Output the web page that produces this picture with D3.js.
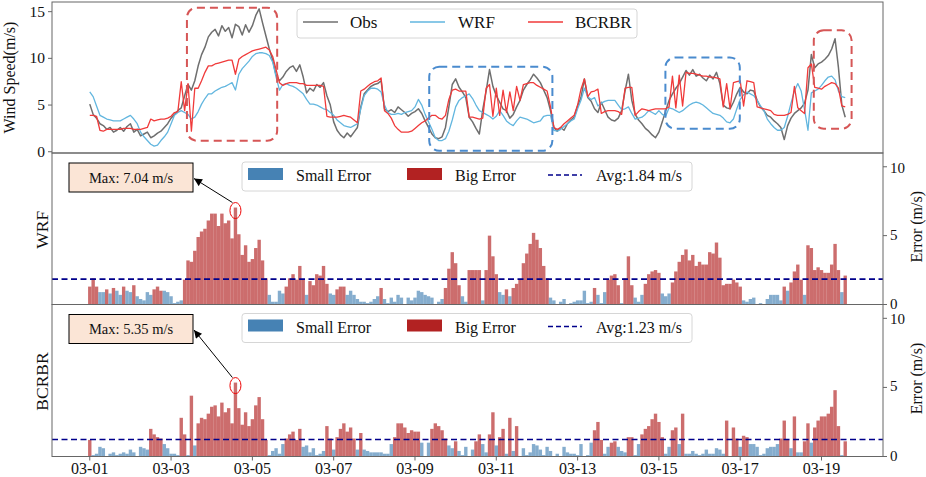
<!DOCTYPE html>
<html>
<head>
<meta charset="utf-8">
<script src="https://cdn.jsdelivr.net/npm/d3@7"></script>
<style>
  body { margin: 0; background: #fff; }
  text { font-family: "Liberation Serif", "Times New Roman", serif; fill: #111; }
</style>
</head>
<body>
<div id="chart"></div>
<script>
// 2-hourly wind speed, 03-01 00:00 .. 03-19 14:00 (m/s)
var obs = [
  5.1, 4.0, 3.6, 3.0, 2.8, 2.4, 2.6, 2.1, 2.3, 2.6, 2.2, 2.7,
  3.0, 2.1, 2.4, 1.7, 1.9, 2.1, 1.5, 1.7, 2.0, 2.2, 2.6, 3.0,
  3.6, 4.0, 4.4, 4.7, 6.0, 7.2, 6.6, 7.6, 9.2, 10.4, 11.2, 12.3,
  12.8, 13.1, 12.4, 13.5, 12.9, 13.3, 12.2, 13.65, 13.4, 12.5, 13.6, 12.8,
  13.5, 14.6, 15.3, 13.8, 12.4, 11.0, 9.8, 8.2, 7.6, 8.0, 8.6, 9.0,
  9.2, 8.6, 9.3, 8.0, 6.3, 6.8, 6.5, 7.2, 6.9, 7.4, 6.0, 5.0,
  3.2, 2.3, 1.8, 1.5, 2.0, 1.6, 2.1, 2.6, 4.8, 6.2, 6.6, 7.0,
  7.2, 7.3, 7.6, 4.6, 4.3, 4.5, 4.2, 4.8, 4.5, 4.2, 3.8, 4.1,
  4.3, 4.6, 4.1, 3.3, 2.6, 1.9, 1.5, 1.4, 1.6, 2.6, 4.8, 7.2,
  7.8, 6.9, 6.4, 5.8, 3.7, 3.2, 2.5, 1.9, 4.5, 6.5, 8.8, 7.0,
  6.0, 5.3, 4.6, 4.4, 3.6, 4.0, 4.8, 5.5, 6.6, 7.2, 7.7, 8.3,
  7.9, 7.4, 6.6, 5.8, 4.4, 2.6, 2.2, 2.6, 2.3, 3.0, 3.4, 3.7,
  4.9, 5.8, 7.8, 5.8, 5.4, 4.6, 4.2, 5.3, 4.5, 3.7, 3.4, 3.3,
  3.6, 4.4, 6.5, 8.3, 5.5, 4.0, 3.4, 3.0, 2.5, 2.2, 1.8, 1.5,
  2.1, 3.2, 4.4, 5.5, 6.2, 6.8, 7.3, 8.0, 8.7, 8.2, 8.8, 8.1,
  8.3, 7.9, 7.6, 8.2, 7.8, 8.5, 7.3, 5.0, 4.7, 4.6, 5.3, 6.2,
  6.9, 6.4, 6.2, 6.6, 6.5, 5.5, 4.8, 4.4, 3.9, 3.7, 3.3, 3.0,
  2.6, 1.3, 2.8, 3.6, 4.1, 4.4, 4.7, 5.2, 6.6, 10.4, 9.0, 9.4,
  9.6, 9.9, 10.3, 11.0, 12.1, 9.0, 5.0, 3.7
];
var wrf = [
  6.4, 5.9, 4.9, 3.9, 3.7, 3.5, 3.4, 3.3, 3.3, 3.3, 3.5, 3.7,
  3.9, 3.5, 3.0, 2.1, 1.6, 1.2, 0.8, 0.6, 0.7, 1.2, 1.6, 2.1,
  3.0, 3.9, 4.2, 4.4, 4.2, 4.0, 3.5, 3.7, 4.3, 5.1, 5.7, 6.2,
  6.2, 6.5, 6.7, 6.9, 7.0, 7.2, 7.4, 6.61, 8.3, 8.9, 9.3, 9.7,
  10.2, 10.5, 10.6, 10.6, 10.5, 10.3, 9.6, 8.0, 6.6, 7.2, 7.3, 7.1,
  7.0, 6.8, 6.5, 6.2, 5.6, 5.1, 5.1, 5.0, 4.8, 4.6, 4.5, 4.2,
  3.9, 3.4, 3.1, 2.8, 2.7, 2.6, 2.8, 3.0, 4.6, 6.0, 6.5, 6.8,
  6.8, 6.7, 6.4, 5.0, 4.2, 4.0, 4.0, 4.1, 4.0, 4.2, 4.3, 4.4,
  4.8, 5.6, 5.0, 4.0, 3.2, 2.4, 1.5, 1.2, 1.2, 1.4, 2.2, 3.4,
  4.8, 5.5, 5.8, 6.0, 6.2, 5.7, 5.0, 4.4, 4.2, 4.0, 3.8, 3.5,
  3.8, 4.4, 3.9, 3.3, 3.0, 2.8, 3.3, 3.7, 3.6, 3.5, 3.3, 3.1,
  3.2, 3.3, 3.8, 3.9, 3.9, 2.3, 2.2, 2.4, 2.7, 3.0, 3.3, 3.5,
  4.6, 5.5, 6.8, 5.9, 5.6, 5.8, 4.9, 5.2, 5.4, 5.5, 5.5, 5.5,
  5.0, 4.5, 4.6, 4.8, 4.1, 3.5, 3.6, 3.7, 4.0, 4.4, 4.2, 4.0,
  4.4, 4.0, 3.8, 4.7, 4.6, 4.4, 4.2, 4.4, 4.7, 5.0, 5.2, 5.3,
  5.2, 5.0, 4.7, 4.4, 4.1, 4.0, 3.9, 3.6, 3.2, 3.1, 3.5, 4.6,
  5.6, 6.1, 6.4, 6.2, 6.0, 5.5, 4.9, 4.4, 3.5, 3.0, 2.6, 2.3,
  2.3, 2.6, 3.8, 5.2, 6.5, 7.3, 6.5, 4.5, 2.3, 6.3, 6.5, 6.7,
  7.1, 7.6, 8.0, 8.1, 7.7, 6.5, 5.9, 5.8
];
var bcrbr = [
  3.9, 3.9, 3.8, 2.3, 2.2, 2.4, 2.4, 2.4, 2.4, 2.4, 2.5, 2.5,
  2.5, 2.4, 2.4, 2.4, 2.5, 2.6, 3.5, 3.3, 3.4, 3.5, 3.5, 3.6,
  3.8, 4.2, 4.3, 7.5, 4.4, 7.3, 2.2, 6.8, 6.8, 7.6, 8.5, 9.2,
  9.2, 9.4, 9.5, 9.6, 9.7, 9.8, 9.8, 8.3, 9.9, 10.2, 10.4, 10.6,
  10.8, 10.9, 11.0, 11.1, 11.2, 10.9, 10.2, 8.8, 7.4, 7.1, 7.3, 7.4,
  7.4, 7.4, 7.3, 7.3, 7.1, 7.1, 7.1, 7.1, 7.1, 7.0, 3.8, 3.7,
  3.7, 3.7, 3.8, 3.9, 3.8, 3.7, 3.4, 3.1, 6.5, 6.7, 7.0, 7.3,
  7.5, 7.6, 7.9, 4.4, 4.1, 3.6, 2.8, 2.4, 2.1, 2.1, 2.1, 2.2,
  2.5, 2.8, 3.1, 3.3, 3.6, 3.9, 3.9, 3.6, 3.5, 3.9, 5.6, 6.6,
  6.7, 6.5, 6.5, 6.5, 3.7, 3.7, 3.6, 3.5, 3.6, 6.8, 7.2, 3.8,
  6.8, 3.9, 6.6, 4.2, 6.4, 4.4, 7.0, 5.5, 7.2, 7.3, 7.4, 7.4,
  7.1, 6.9, 6.7, 6.5, 4.8, 2.6, 2.4, 2.6, 3.0, 3.3, 3.6, 3.9,
  5.0, 6.7, 7.8, 5.9, 6.4, 6.5, 6.7, 4.1, 4.3, 4.4, 4.4, 4.4,
  4.3, 4.0, 6.8, 6.9, 6.9, 3.9, 4.3, 4.6, 4.5, 4.4, 4.5, 4.6,
  4.6, 4.6, 4.6, 4.8, 8.1, 4.7, 8.2, 4.9, 8.5, 8.4, 8.4, 8.3,
  8.2, 8.1, 8.1, 8.0, 8.0, 7.9, 7.8, 4.8, 7.3, 4.6, 7.4, 7.5,
  7.6, 4.9, 7.6, 7.5, 7.4, 4.8, 4.7, 4.6, 4.5, 4.4, 4.0, 3.9,
  3.9, 3.9, 4.0, 4.2, 7.0, 4.7, 4.4, 4.1, 9.0, 9.4, 6.9, 6.8,
  6.7, 7.0, 7.2, 7.4, 7.3, 6.8, 4.9, 4.8
];

var seriesNames = ["Obs", "WRF", "BCRBR"];
var seriesColors = ["#6f6f6f", "#62b6df", "#f03a3a"];
var panelNames = ["WRF", "BCRBR"];
var avgErr = [1.84, 1.23];          // legend values
var bigThreshold = 1.0;             // small / big error split (m/s)
var xTickLabels = ["03-01", "03-03", "03-05", "03-07", "03-09", "03-11", "03-13", "03-15", "03-17", "03-19"];
var speedTicks = [0, 5, 10, 15];
var errTicks = [0, 5, 10];
// highlighted windows: start day, end day (days after 03-01), low/high speed
var hlStart = [2.39, 8.35, 14.16, 17.81];
var hlEnd = [4.61, 11.38, 15.99, 18.74];
var hlLow = [1.18, 0.1, 2.46, 2.46];
var hlHigh = [15.43, 9.1, 10.1, 13.0];
var hlKind = ["red", "blue", "blue", "red"];

var W = 926, H = 477;
var L = 52, R = 883;
var HOUR2 = 2 * 3600 * 1000, DAY = 24 * 3600 * 1000;
var t0 = Date.UTC(2021, 2, 1);
var times = obs.map(function (d, i) { return new Date(t0 + i * HOUR2); });
var tEnd = times[times.length - 1];
var pad = (tEnd - times[0]) * 0.05;

var svg = d3.select("#chart").append("svg").attr("width", W).attr("height", H);
svg.append("rect").attr("width", W).attr("height", H).attr("fill", "#fff");

var x = d3.scaleUtc().domain([new Date(t0 - pad), new Date(+tEnd + pad)]).range([L, R]);
function dayX(d) { return x(new Date(t0 + d * DAY)); }

var defs = svg.append("defs");
defs.append("marker").attr("id", "ah").attr("viewBox", "0 0 10 10")
  .attr("refX", 10).attr("refY", 5).attr("markerWidth", 9).attr("markerHeight", 8)
  .attr("markerUnits", "userSpaceOnUse").attr("orient", "auto")
  .append("path").attr("d", "M0,0 L10,5 L0,10 z").attr("fill", "#000");

function clip(id, top, bottom) {
  defs.append("clipPath").attr("id", id).append("rect")
    .attr("x", L).attr("y", top).attr("width", R - L).attr("height", bottom - top);
}

// ---------- top panel: wind speed ----------
var topY0 = 2, topY1 = 153;
var all = obs.concat(wrf, bcrbr);
var lo = d3.min(all), hi = d3.max(all), yp = (hi - lo) * 0.05;
var ySpeed = d3.scaleLinear().domain([lo - yp, hi + yp]).range([topY1, topY0]);
clip("cTop", topY0, topY1);

var gTop = svg.append("g").attr("clip-path", "url(#cTop)");
[obs, wrf, bcrbr].forEach(function (s, k) {
  gTop.append("path").datum(s)
    .attr("fill", "none").attr("stroke", seriesColors[k])
    .attr("stroke-width", k === 0 ? 1.5 : 1.3).attr("stroke-linejoin", "round")
    .attr("d", d3.line().x(function (d, i) { return x(times[i]); }).y(function (d) { return ySpeed(d); }));
});

hlStart.forEach(function (s, i) {
  var x0 = dayX(s), x1 = dayX(hlEnd[i]), y0 = ySpeed(hlHigh[i]), y1 = ySpeed(hlLow[i]);
  svg.append("rect").attr("x", x0).attr("y", y0).attr("width", x1 - x0).attr("height", y1 - y0)
    .attr("rx", 10).attr("fill", "none")
    .attr("stroke", hlKind[i] === "red" ? "#d65656" : "#4a8bce")
    .attr("stroke-width", 2).attr("stroke-dasharray", "8,5");
});

svg.append("rect").attr("x", L).attr("y", topY0).attr("width", R - L).attr("height", topY1 - topY0)
  .attr("fill", "none").attr("stroke", "#666");

speedTicks.forEach(function (t) {
  var yy = ySpeed(t);
  svg.append("line").attr("x1", L - 4).attr("x2", L).attr("y1", yy).attr("y2", yy).attr("stroke", "#666");
  svg.append("text").attr("x", L - 7).attr("y", yy + 5).attr("text-anchor", "end")
    .attr("font-size", 15.5).text(t);
});
svg.append("text").attr("transform", "translate(15," + ((topY0 + topY1) / 2) + ") rotate(-90)")
  .attr("text-anchor", "middle").attr("font-size", 16).text("Wind Speed(m/s)");

// legend
var lg = svg.append("g");
lg.append("rect").attr("x", 297).attr("y", 9).attr("width", 340).attr("height", 29).attr("rx", 3)
  .attr("fill", "#fff").attr("fill-opacity", 0.85).attr("stroke", "#d6d6d6");
var legLineX = [303, 410, 528], legTextX = [350, 458, 575];
seriesNames.forEach(function (n, k) {
  lg.append("line").attr("x1", legLineX[k]).attr("x2", legLineX[k] + 35).attr("y1", 22).attr("y2", 22)
    .attr("stroke", seriesColors[k]).attr("stroke-width", 1.5);
  lg.append("text").attr("x", legTextX[k]).attr("y", 28).attr("font-size", 17).text(n);
});

// ---------- error panels ----------
var errPanels = [
  { err: wrf.map(function (v, i) { return Math.abs(v - obs[i]); }), top: 153, bottom: 304.5 },
  { err: bcrbr.map(function (v, i) { return Math.abs(v - obs[i]); }), top: 304.5, bottom: 456.5 }
];
var step = x(times[1]) - x(times[0]);

errPanels.forEach(function (p, k) {
  var y = d3.scaleLinear().domain([0, 11]).range([p.bottom, p.top]);
  clip("cErr" + k, p.top, p.bottom);
  var g = svg.append("g").attr("clip-path", "url(#cErr" + k + ")");

  g.selectAll("rect.bar").data(p.err).enter().append("rect")
    .attr("x", function (d, i) { return x(times[i]) - step / 2; })
    .attr("width", step)
    .attr("y", function (d) { return y(d); })
    .attr("height", function (d) { return y(0) - y(d); })
    .attr("fill", function (d) { return d > bigThreshold ? "#b22222" : "#4682b4"; })
    .attr("fill-opacity", 0.66);

  g.append("line").attr("x1", L).attr("x2", R).attr("y1", y(avgErr[k])).attr("y2", y(avgErr[k]))
    .attr("stroke", "#00008b").attr("stroke-width", 1.6).attr("stroke-dasharray", "6,3.5");

  svg.append("rect").attr("x", L).attr("y", p.top).attr("width", R - L).attr("height", p.bottom - p.top)
    .attr("fill", "none").attr("stroke", "#666");

  errTicks.forEach(function (t) {
    var yy = y(t);
    svg.append("line").attr("x1", R).attr("x2", R + 4).attr("y1", yy).attr("y2", yy).attr("stroke", "#666");
    svg.append("text").attr("x", R + 7).attr("y", yy + (t === 10 ? 6 : 4)).attr("font-size", 15).text(t);
  });
  var mid = (p.top + p.bottom) / 2;
  svg.append("text").attr("transform", "translate(922," + (mid - 2) + ") rotate(-90)")
    .attr("text-anchor", "middle").attr("font-size", 16).text("Error (m/s)");
  svg.append("text").attr("transform", "translate(48," + (mid + 1) + ") rotate(-90)")
    .attr("text-anchor", "middle").attr("font-size", 17.5).text(panelNames[k]);

  // legend
  var ly = p.top + 9;
  var g2 = svg.append("g");
  g2.append("rect").attr("x", 242).attr("y", ly).attr("width", 450).attr("height", 29).attr("rx", 3)
    .attr("fill", "#fff").attr("fill-opacity", 0.85).attr("stroke", "#d6d6d6");
  g2.append("rect").attr("x", 248).attr("y", ly + 6).attr("width", 35).attr("height", 12).attr("fill", "#4682b4");
  g2.append("text").attr("x", 296).attr("y", ly + 19).attr("font-size", 16).text("Small Error");
  g2.append("rect").attr("x", 407).attr("y", ly + 6).attr("width", 35).attr("height", 12).attr("fill", "#b22222");
  g2.append("text").attr("x", 455).attr("y", ly + 19).attr("font-size", 16).text("Big Error");
  g2.append("line").attr("x1", 548).attr("x2", 582).attr("y1", ly + 13).attr("y2", ly + 13)
    .attr("stroke", "#00008b").attr("stroke-width", 1.6).attr("stroke-dasharray", "5,3");
  g2.append("text").attr("x", 596).attr("y", ly + 19).attr("font-size", 16)
    .text("Avg:" + avgErr[k].toFixed(2) + " m/s");

  // max annotation
  var mi = d3.maxIndex(p.err);
  var cx = x(times[mi]), cy = y(p.err[mi]);
  svg.append("ellipse").attr("cx", cx).attr("cy", cy + 3).attr("rx", 5.5).attr("ry", 8)
    .attr("fill", "none").attr("stroke", "#e00").attr("stroke-width", 1);
  var bx = 69, bw = 124, bh = 29, by = p.top + 10;
  svg.append("line").attr("x1", cx - 3).attr("y1", cy - 5).attr("x2", bx + bw + 1).attr("y2", by + bh / 2 + 1)
    .attr("stroke", "#000").attr("stroke-width", 1).attr("marker-end", "url(#ah)");
  svg.append("rect").attr("x", bx).attr("y", by).attr("width", bw).attr("height", bh)
    .attr("fill", "#fbe5d6").attr("stroke", "#000").attr("stroke-width", 1);
  svg.append("text").attr("x", bx + bw / 2).attr("y", by + bh / 2 + 5).attr("text-anchor", "middle")
    .attr("font-size", 14.5).text("Max: " + p.err[mi].toFixed(2) + " m/s");
});

// bottom x axis
var yAxisB = 456.5;
xTickLabels.forEach(function (lab) {
  var t = new Date(Date.UTC(2021, +lab.slice(0, 2) - 1, +lab.slice(3)));
  var xx = x(t);
  svg.append("line").attr("x1", xx).attr("x2", xx).attr("y1", yAxisB).attr("y2", yAxisB + 4).attr("stroke", "#666");
  svg.append("text").attr("x", xx).attr("y", yAxisB + 17).attr("text-anchor", "middle")
    .attr("font-size", 16).text(d3.utcFormat("%m-%d")(t));
});
</script>
</body>
</html>
